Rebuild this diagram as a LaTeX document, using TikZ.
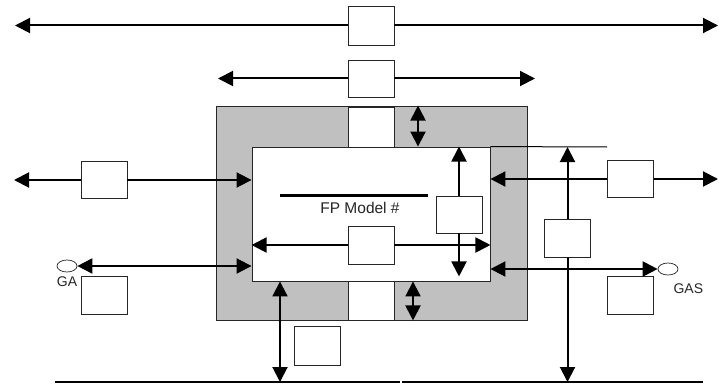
\documentclass[tikz,border=0pt]{standalone}
\usepackage{fontspec}
\setmainfont{Liberation Sans}
\usetikzlibrary{arrows.meta, positioning, shapes.geometric}
\definecolor{panelgray}{RGB}{192,192,192}

\begin{document}
\begin{tikzpicture}[
  x=1pt, y=-1pt,
  box/.style={draw=black!85, line width=0.9pt, fill=white, minimum width=46pt, minimum height=38pt, inner sep=0pt},
  oval/.style={draw=black!85, line width=0.7pt, ellipse, fill=white, minimum width=20pt, minimum height=12pt, inner sep=0pt},
  lbl/.style={font=\fontsize{14}{16}\selectfont, text=black!85, inner sep=0pt},
  arr/.style={-{Triangle[length=15pt, width=15pt]}, line width=2pt},
  biarr/.style={{Triangle[length=15pt, width=15pt]}-{Triangle[length=15pt, width=15pt]}, line width=2pt},
]
\useasboundingbox (0,0) rectangle (719,385);

% ---- gray frame and white inner panel
\node[draw=black!85, line width=0.9pt, fill=panelgray, minimum width=311pt, minimum height=214pt, inner sep=0pt] (outer) at (371.5,213) {};
\node[draw=black!85, line width=0.9pt, fill=white, minimum width=238pt, minimum height=134pt, inner sep=0pt] (inner) at (371,214) {};
\coordinate (topline) at (607,147);
\draw[line width=1pt] (inner.north east) -- (topline);

% ---- boxes
\node[box, minimum height=39pt] (top1) at (371,25.5) {};
\node[box, minimum height=37pt] (top2) at (371,78.5) {};
\node[box, minimum height=40pt] (gtop) at (371,127) {};
\node[box, minimum height=39pt] (gbot) at (371,300.5) {};
\node[box] (mid) at (371,245) {};
\node[box, minimum height=37pt] (inr) at (459,214.5) {};
\node[box, minimum height=37pt] (left1) at (104,180) {};
\node[box] (gabox) at (104,295) {};
\node[box, minimum height=39pt] (below) at (317,345.5) {};
\node[box, minimum height=37pt] (right1) at (630.5,179) {};
\node[box] (right2) at (567.5,238) {};
\node[box] (gasbox) at (630.5,295) {};

% ---- model label
\draw[line width=3pt] (280,195) -- (428,195);
\node[lbl, font=\fontsize{15.5}{18}\selectfont] (model) at (360,208) {FP Model \#};

% ---- terminals
\node[oval] (ga) at (67,266) {};
\node[lbl, below=4pt of ga] (galbl) {GA};
\node[oval] (gas) at (668,269) {};
\node[lbl, below right=10pt and -2pt of gas] (gaslbl) {GAS};

% ---- bottom rail
\coordinate (railA) at (55,382);
\coordinate (railB) at (400,382);
\coordinate (railC) at (402,382);
\coordinate (railD) at (703,382);
\draw[line width=1.5pt] (railA) -- (railB);
\draw[line width=1.5pt] (railC) -- (railD);

% ---- top flow
\draw[arr] (top1.west) -- (15,25.5);
\draw[arr] (top1.east) -- (718,25.5);
\draw[arr] (top2.west) -- (218,78.5);
\draw[arr] (top2.east) -- (535,78.5);
\draw[biarr] (outer.north -| 418,0) -- (inner.north -| 418,0);

% ---- left side
\draw[arr] (left1.west) -- (14,180);
\draw[arr] (left1.east) -- (inner.west |- left1.east);
\draw[biarr] (ga.east) -- (inner.west |- ga.east);

% ---- inner panel
\draw[arr] (mid.west) -- (inner.west |- mid.west);
\draw[arr] (mid.east) -- (inner.east |- mid.east);
\draw[arr] (inr.north) -- (inr.north |- inner.north);
\draw[arr] (inr.south) -- ([yshift=5pt]inr.south |- inner.south);

% ---- bottom of frame
\draw[biarr] (inner.south -| 413,0) -- (outer.south -| 413,0);
\draw[biarr] (inner.south -| 280,0) -- (railA -| 280,0);

% ---- right side
\draw[arr] (right1.west) -- (inner.east |- right1.west);
\draw[arr] (right1.east) -- (718,179);
\draw[arr] (right2.north) -- (right2.north |- topline);
\draw[arr] (right2.south) -- (right2.south |- railD);
\draw[biarr] (inner.east |- gas.west) -- (gas.west);
\end{tikzpicture}
\end{document}
